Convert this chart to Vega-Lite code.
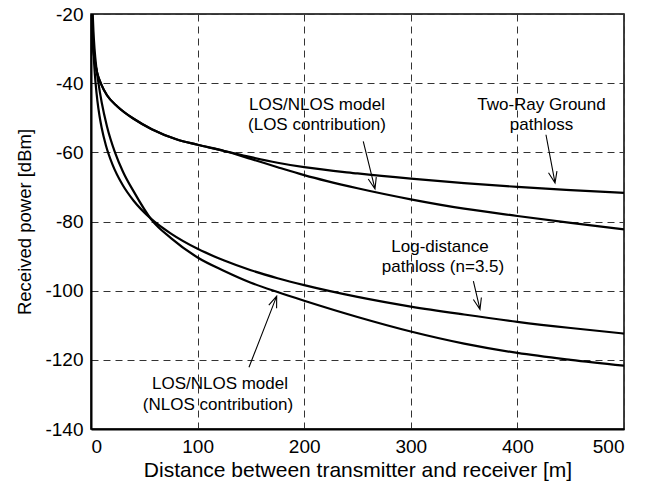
{
  "$schema": "https://vega.github.io/schema/vega-lite/v6.json",
  "width": 533,
  "height": 415,
  "autosize": {"type": "none"},
  "padding": {"left": 91, "top": 14, "right": 32, "bottom": 55},
  "background": "white",
  "config": {
    "font": "Liberation Sans",
    "view": {"stroke": "black", "strokeWidth": 1.5},
    "axis": {
      "labelFont": "Liberation Sans",
      "titleFont": "Liberation Sans",
      "labelFontSize": 19,
      "titleFontSize": 19,
      "titleFontWeight": "normal",
      "labelColor": "black",
      "titleColor": "black",
      "domainColor": "black",
      "domainWidth": 2,
      "ticks": false,
      "gridColor": "#333333",
      "gridDash": [7, 5],
      "gridWidth": 1,
      "gridOpacity": 1,
      "labelPadding": 8,
      "labelExpr": "'' + datum.value"
    }
  },
  "datasets": {
    "curves": [
      {"s": "tr", "d": 0.5, "p": -20}, {"s": "tr", "d": 1, "p": -24}, {"s": "tr", "d": 2, "p": -29.5}, {"s": "tr", "d": 3, "p": -32.4}, {"s": "tr", "d": 4, "p": -34.4}, {"s": "tr", "d": 6, "p": -37.3}, {"s": "tr", "d": 9.4, "p": -40.2}, {"s": "tr", "d": 15, "p": -43.5}, {"s": "tr", "d": 25, "p": -46.8}, {"s": "tr", "d": 40, "p": -50.3}, {"s": "tr", "d": 57, "p": -53.3}, {"s": "tr", "d": 80, "p": -56.2}, {"s": "tr", "d": 100, "p": -57.8}, {"s": "tr", "d": 125, "p": -59.6}, {"s": "tr", "d": 150, "p": -61.4}, {"s": "tr", "d": 175, "p": -63}, {"s": "tr", "d": 200, "p": -64.3}, {"s": "tr", "d": 250, "p": -66.1}, {"s": "tr", "d": 300, "p": -67.6}, {"s": "tr", "d": 350, "p": -68.9}, {"s": "tr", "d": 400, "p": -70}, {"s": "tr", "d": 450, "p": -70.9}, {"s": "tr", "d": 500, "p": -71.7},
      {"s": "los", "d": 0.5, "p": -20}, {"s": "los", "d": 1, "p": -24}, {"s": "los", "d": 2, "p": -29.5}, {"s": "los", "d": 3, "p": -32.4}, {"s": "los", "d": 4, "p": -34.4}, {"s": "los", "d": 6, "p": -37.3}, {"s": "los", "d": 9.4, "p": -40.2}, {"s": "los", "d": 15, "p": -43.5}, {"s": "los", "d": 25, "p": -46.8}, {"s": "los", "d": 40, "p": -50.3}, {"s": "los", "d": 57, "p": -53.3}, {"s": "los", "d": 80, "p": -56.2}, {"s": "los", "d": 100, "p": -57.8}, {"s": "los", "d": 125, "p": -59.6}, {"s": "los", "d": 150, "p": -61.9}, {"s": "los", "d": 175, "p": -64.3}, {"s": "los", "d": 200, "p": -66.6}, {"s": "los", "d": 250, "p": -70.4}, {"s": "los", "d": 300, "p": -73.6}, {"s": "los", "d": 350, "p": -76.3}, {"s": "los", "d": 400, "p": -78.4}, {"s": "los", "d": 450, "p": -80.4}, {"s": "los", "d": 500, "p": -82.3},
      {"s": "ld", "d": 1.15, "p": -20}, {"s": "ld", "d": 1.5, "p": -24.1}, {"s": "ld", "d": 2, "p": -28.4}, {"s": "ld", "d": 3, "p": -34.6}, {"s": "ld", "d": 4.3, "p": -40}, {"s": "ld", "d": 6, "p": -45.1}, {"s": "ld", "d": 8, "p": -49.5}, {"s": "ld", "d": 10, "p": -52.9}, {"s": "ld", "d": 14, "p": -58}, {"s": "ld", "d": 20, "p": -63.4}, {"s": "ld", "d": 30, "p": -69.6}, {"s": "ld", "d": 40, "p": -74}, {"s": "ld", "d": 57, "p": -79.4}, {"s": "ld", "d": 75, "p": -83.5}, {"s": "ld", "d": 100, "p": -87.9}, {"s": "ld", "d": 125, "p": -91.3}, {"s": "ld", "d": 150, "p": -94.1}, {"s": "ld", "d": 175, "p": -96.4}, {"s": "ld", "d": 200, "p": -98.4}, {"s": "ld", "d": 250, "p": -101.8}, {"s": "ld", "d": 300, "p": -104.6}, {"s": "ld", "d": 350, "p": -106.9}, {"s": "ld", "d": 400, "p": -109}, {"s": "ld", "d": 450, "p": -110.8}, {"s": "ld", "d": 500, "p": -112.4},
      {"s": "nl", "d": 1.6, "p": -20}, {"s": "nl", "d": 2.3, "p": -25}, {"s": "nl", "d": 3.3, "p": -30}, {"s": "nl", "d": 5, "p": -35.5}, {"s": "nl", "d": 7, "p": -40}, {"s": "nl", "d": 10, "p": -45.5}, {"s": "nl", "d": 15, "p": -52.5}, {"s": "nl", "d": 22.5, "p": -60}, {"s": "nl", "d": 30, "p": -65.6}, {"s": "nl", "d": 40, "p": -71.3}, {"s": "nl", "d": 57, "p": -79.6}, {"s": "nl", "d": 75, "p": -84.8}, {"s": "nl", "d": 100, "p": -90.4}, {"s": "nl", "d": 125, "p": -94.3}, {"s": "nl", "d": 150, "p": -97.7}, {"s": "nl", "d": 175, "p": -100.4}, {"s": "nl", "d": 200, "p": -102.9}, {"s": "nl", "d": 250, "p": -107.6}, {"s": "nl", "d": 300, "p": -111.8}, {"s": "nl", "d": 350, "p": -115.3}, {"s": "nl", "d": 400, "p": -118}, {"s": "nl", "d": 450, "p": -120}, {"s": "nl", "d": 500, "p": -121.7}
    ],
    "arrows": [
      {"a": "los", "i": 0, "d": 255.4, "p": -56.85}, {"a": "los", "i": 1, "d": 266.4, "p": -70.6}, {"a": "los", "i": 2, "d": 267.6, "p": -67.16}, {"a": "los", "i": 3, "d": 266.4, "p": -70.6}, {"a": "los", "i": 4, "d": 260.1, "p": -67.7},
      {"a": "tr", "i": 0, "d": 426.8, "p": -54.92}, {"a": "tr", "i": 1, "d": 435.3, "p": -68.86}, {"a": "tr", "i": 2, "d": 437.1, "p": -65.45}, {"a": "tr", "i": 3, "d": 435.3, "p": -68.86}, {"a": "tr", "i": 4, "d": 429.2, "p": -65.89},
      {"a": "ld", "i": 0, "d": 358.7, "p": -97.26}, {"a": "ld", "i": 1, "d": 364.9, "p": -105.43}, {"a": "ld", "i": 2, "d": 366.2, "p": -101.99}, {"a": "ld", "i": 3, "d": 364.9, "p": -105.43}, {"a": "ld", "i": 4, "d": 358.7, "p": -102.54},
      {"a": "nl", "i": 0, "d": 148.2, "p": -122.16}, {"a": "nl", "i": 1, "d": 174.2, "p": -101.59}, {"a": "nl", "i": 2, "d": 166.8, "p": -104.18}, {"a": "nl", "i": 3, "d": 174.2, "p": -101.59}, {"a": "nl", "i": 4, "d": 174.1, "p": -105.05}
    ],
    "labels": [
      {"d": 212, "p": -46.26, "t": "LOS/NLOS model"},
      {"d": 212, "p": -52.03, "t": "(LOS contribution)"},
      {"d": 422.6, "p": -46.26, "t": "Two-Ray Ground"},
      {"d": 422.6, "p": -52.03, "t": "pathloss"},
      {"d": 327.4, "p": -87.24, "t": "Log-distance"},
      {"d": 330.2, "p": -93.3, "t": "pathloss (n=3.5)"},
      {"d": 121, "p": -127.07, "t": "LOS/NLOS model"},
      {"d": 119.1, "p": -133.13, "t": "(NLOS contribution)"}
    ]
  },
  "layer": [
    {
      "data": {"name": "curves"},
      "mark": {"type": "line", "color": "black", "strokeWidth": 2.2, "clip": true, "interpolate": "monotone"},
      "encoding": {
        "x": {"field": "d", "type": "quantitative", "scale": {"domain": [0, 500], "nice": false},
              "axis": {"values": [0, 100, 200, 300, 400, 500], "title": "Distance between transmitter and receiver [m]", "titleFontSize": 21, "titlePadding": 3}},
        "y": {"field": "p", "type": "quantitative", "scale": {"domain": [-140, -20], "nice": false},
              "axis": {"values": [-140, -120, -100, -80, -60, -40, -20], "title": "Received power [dBm]", "titleFontSize": 18.5, "titlePadding": 10}},
        "detail": {"field": "s"}
      }
    },
    {
      "data": {"name": "arrows"},
      "mark": {"type": "line", "color": "black", "strokeWidth": 1.1},
      "encoding": {
        "x": {"field": "d", "type": "quantitative"},
        "y": {"field": "p", "type": "quantitative"},
        "detail": {"field": "a"},
        "order": {"field": "i"}
      }
    },
    {
      "data": {"name": "labels"},
      "mark": {"type": "text", "fontSize": 17, "align": "center", "baseline": "middle", "color": "black", "font": "Liberation Sans"},
      "encoding": {
        "x": {"field": "d", "type": "quantitative"},
        "y": {"field": "p", "type": "quantitative"},
        "text": {"field": "t"}
      }
    }
  ]
}
